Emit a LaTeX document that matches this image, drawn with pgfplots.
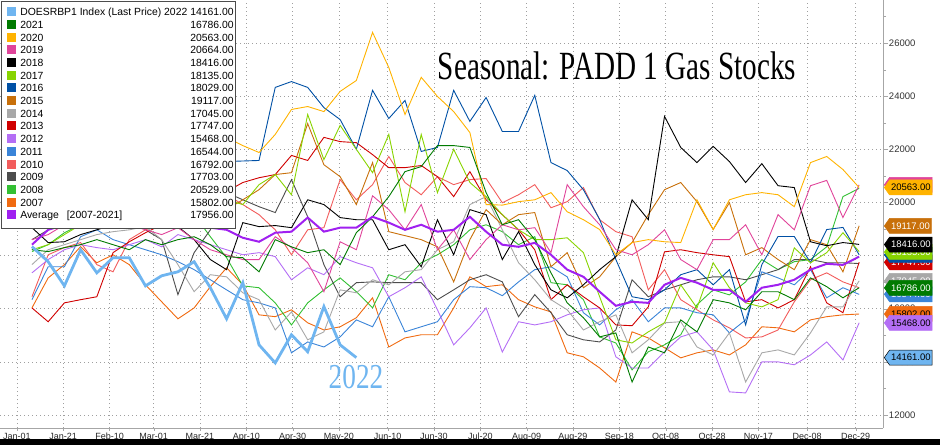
\documentclass[border=0pt]{standalone}
\usepackage{fontspec}
\setmainfont{Liberation Sans}
\newfontfamily\tnr{Liberation Serif}
\usepackage{pgfplots}
\pgfplotsset{compat=1.18}
\usetikzlibrary{shapes.symbols}
\definecolor{c22}{HTML}{6FB5F0}
\definecolor{c21}{HTML}{007A00}
\definecolor{c20}{HTML}{FFB300}
\definecolor{c19}{HTML}{E0449A}
\definecolor{c18}{HTML}{000000}
\definecolor{c17}{HTML}{88D400}
\definecolor{c16}{HTML}{0050A5}
\definecolor{c15}{HTML}{C8700A}
\definecolor{c14}{HTML}{A8A8A8}
\definecolor{c13}{HTML}{D00000}
\definecolor{c12}{HTML}{B46EF5}
\definecolor{c11}{HTML}{3A84D8}
\definecolor{c10}{HTML}{F25C5C}
\definecolor{c09}{HTML}{4D4D4D}
\definecolor{c08}{HTML}{33C033}
\definecolor{c07}{HTML}{F06A10}
\definecolor{cavg}{HTML}{A020F0}
\newcommand\yr[3]{\addplot[color=#1, line width=#2, forget plot] table[x expr=\coordindex, y=y, row sep=\\]{#3};}
\newcommand\sq[1]{\textcolor{#1}{\rule[-0.5pt]{9pt}{9pt}}}
\newcommand\vtag[5]{\node[signal, signal to=west, signal pointer angle=110, fill=#3, text=#4, draw=#5, line width=0.5pt, minimum height=15pt, inner xsep=1.5pt, inner ysep=0pt, anchor=west, xshift=1pt, font=\fontsize{9.5}{10}\selectfont] at (#1) {#2};}
\begin{document}
\begin{tikzpicture}
\path[use as bounding box] (0,0) rectangle (940pt,445pt);
\begin{axis}[
  at={(0pt,17pt)}, anchor=south west,
  width=883pt, height=428pt, scale only axis,
  xmin=-1.97, xmax=52.47, ymin=11510, ymax=27620,
  axis x line*=bottom, axis y line*=right,
  axis line style={gray!70},
  xtick={-0.929,1.929,4.786,7.5,10.357,13.214,16.071,18.929,21.929,24.786,27.643,30.5,33.357,36.214,39.071,41.929,44.786,47.786,50.786},
  xticklabels={Jan-01,Jan-21,Feb-10,Mar-01,Mar-21,Apr-10,Apr-30,May-20,Jun-10,Jun-30,Jul-20,Aug-09,Aug-29,Sep-18,Oct-08,Oct-28,Nov-17,Dec-08,Dec-29},
  ytick={12000,14000,16000,18000,20000,22000,24000,26000},
  minor ytick={13000,15000,17000,19000,21000,23000,25000,27000},
  scaled y ticks=false,
  tick align=outside,
  xtick style={gray!70, /pgfplots/major tick length=2.5pt},
  ytick style={gray!70, /pgfplots/major tick length=5pt, /pgfplots/minor tick length=3pt},
  grid=major,
  grid style={gray!75, line width=0.5pt, dash pattern=on 1pt off 3pt},
  xticklabel style={font=\fontsize{9}{10}\selectfont, text=black!85, inner sep=1pt},
  yticklabel style={font=\fontsize{9.5}{10}\selectfont, text=black!80, inner sep=1.5pt},
  /pgf/number format/1000 sep={},
  /pgf/number format/assume math mode=true,
  clip mode=individual,
  unbounded coords=jump,
]
\yr{c07}{0.9pt}{y\\16030\\17160\\17660\\18340\\17730\\18030\\17660\\16900\\16260\\15620\\16030\\16830\\17540\\16900\\15770\\15700\\15960\\15470\\15200\\15320\\15660\\16410\\14560\\14900\\15020\\15020\\16030\\17200\\16830\\16900\\16340\\16070\\15880\\14340\\14190\\13770\\13240\\15130\\14900\\14530\\14150\\14340\\14450\\14260\\14640\\15320\\15280\\15130\\15580\\15700\\15770\\15800\\}
\yr{c08}{0.9pt}{y\\18150\\18410\\18860\\19160\\19350\\19430\\19540\\19350\\19540\\19620\\19540\\18710\\17920\\16860\\16790\\16220\\15390\\16220\\16710\\17160\\16640\\16030\\17280\\17090\\17730\\18030\\18410\\18970\\19160\\18900\\18410\\18710\\16980\\16900\\16340\\14940\\14710\\13700\\14380\\14640\\15020\\16150\\16710\\16520\\17010\\17850\\17470\\17770\\17850\\18330\\20220\\20530\\}
\yr{c09}{0.9pt}{y\\18600\\18970\\19160\\19350\\19540\\19730\\19430\\18970\\18600\\16530\\18110\\18970\\20370\\20100\\19840\\19620\\20860\\19460\\17660\\16450\\16980\\17010\\16980\\16980\\16980\\16340\\16710\\17090\\17280\\17010\\15700\\16530\\15850\\15020\\14830\\14750\\15200\\17090\\16450\\16710\\16900\\17090\\17200\\17200\\17090\\17280\\17470\\17850\\17850\\17730\\17730\\17700\\}
\yr{c10}{0.9pt}{y\\16450\\18030\\18300\\18490\\17660\\17390\\18600\\18970\\19160\\19540\\19920\\20100\\20290\\19920\\19540\\18970\\18030\\18970\\19050\\20860\\20100\\20670\\21730\\20750\\20290\\20970\\20670\\20860\\20900\\19990\\20290\\20670\\19800\\20030\\20560\\19350\\18900\\18710\\16710\\17470\\16340\\15960\\15580\\15280\\14900\\14940\\15200\\16260\\17090\\17350\\17010\\16790\\}
\yr{c11}{0.9pt}{y\\16340\\17580\\17580\\18710\\18970\\18600\\18410\\18220\\18030\\17770\\17470\\17090\\16710\\16340\\16220\\16030\\14340\\14750\\14560\\14940\\15580\\15320\\16450\\15130\\15320\\15510\\16340\\16830\\16790\\16490\\17010\\17470\\17580\\17200\\15850\\15390\\15960\\16340\\15510\\16030\\16030\\15850\\15770\\15090\\15580\\17390\\17160\\16900\\17470\\16410\\16790\\16540\\}
\yr{c12}{0.9pt}{y\\17350\\17850\\18220\\18410\\18300\\18220\\18410\\18600\\18330\\18790\\18600\\18410\\18220\\18030\\18110\\17960\\17090\\17540\\17280\\17960\\17730\\17540\\16450\\16790\\17200\\15960\\14640\\15280\\16030\\14370\\15510\\15390\\15510\\15770\\15960\\16030\\14190\\13770\\13770\\14380\\14940\\15130\\14450\\12870\\12830\\14000\\14000\\13890\\14260\\14750\\14070\\15470\\}
\yr{c13}{0.9pt}{y\\16030\\15510\\16220\\16340\\16450\\18110\\18520\\18860\\19160\\19540\\19920\\20180\\20410\\20750\\20930\\21050\\21770\\21580\\22450\\22290\\22250\\21800\\21310\\21310\\21390\\20970\\20220\\21160\\20100\\19540\\18970\\18220\\16340\\16900\\16450\\16030\\15390\\15360\\16070\\18140\\18220\\18110\\18030\\17960\\16260\\16340\\16030\\16340\\17580\\16220\\15850\\17750\\}
\yr{c14}{0.9pt}{y\\17660\\18220\\18410\\18600\\18790\\18900\\18970\\19090\\18600\\17660\\16640\\17280\\17200\\16600\\16340\\15200\\15880\\14830\\15130\\16710\\16600\\17090\\16900\\17390\\17470\\18220\\18520\\19920\\20220\\18970\\17730\\17090\\16340\\15960\\15200\\15510\\15770\\14340\\14830\\15470\\15510\\14560\\14260\\15090\\13240\\14340\\14450\\14260\\15090\\16070\\16070\\17050\\}
\yr{c15}{0.9pt}{y\\19540\\19730\\19920\\20100\\19920\\20290\\20480\\20100\\19920\\19730\\19920\\20100\\19730\\20100\\20480\\21050\\21120\\22970\\21420\\20970\\19920\\21500\\18900\\18750\\18600\\18330\\17010\\18600\\19730\\19160\\19540\\19620\\17580\\18110\\16790\\17200\\17960\\18490\\19540\\20480\\20750\\20030\\18980\\19990\\18030\\18300\\17850\\17470\\18600\\18410\\17390\\19120\\}
\yr{c16}{0.9pt}{y\\19800\\20100\\20500\\20800\\21100\\20900\\21300\\21000\\21400\\21600\\21500\\21500\\21540\\21560\\21580\\24330\\24550\\24330\\23570\\23120\\22000\\24220\\23160\\23840\\21920\\22070\\24220\\23050\\23950\\22670\\22670\\24030\\21500\\21200\\20480\\19360\\17850\\16450\\16340\\16710\\17280\\17470\\16900\\17470\\15390\\17660\\18720\\18720\\17730\\18980\\19060\\18030\\}
\yr{c17}{0.9pt}{y\\18220\\18410\\18790\\19160\\19540\\19730\\20100\\20480\\20860\\21240\\20480\\20100\\20100\\19920\\20670\\21050\\20290\\23310\\21610\\22900\\22000\\21120\\22560\\19650\\22560\\20370\\22000\\20750\\20220\\19540\\18970\\18600\\18600\\18670\\18110\\16450\\14830\\14710\\15130\\15470\\16900\\16030\\17730\\16790\\16220\\16070\\16340\\18290\\17730\\18110\\18860\\18150\\}
\yr{c18}{0.9pt}{y\\19050\\18490\\18520\\18790\\18970\\19160\\19160\\19280\\19160\\19090\\18600\\17850\\17470\\19240\\19090\\19130\\19050\\20100\\19920\\19430\\19350\\19350\\18220\\18410\\17580\\19350\\18030\\19730\\19540\\17850\\18900\\17660\\16710\\16410\\16900\\17470\\17960\\20100\\19350\\23240\\22070\\21500\\22110\\21540\\20750\\21460\\20630\\20560\\18520\\18370\\18490\\18420\\}
\yr{c19}{0.9pt}{y\\18600\\18790\\19160\\19350\\19540\\19730\\19160\\18970\\18790\\19050\\18600\\18220\\18030\\17850\\17850\\18710\\18300\\17730\\16640\\18520\\18220\\20250\\19730\\18970\\19920\\18220\\18970\\17850\\18600\\19160\\18970\\19050\\18110\\20670\\19840\\19160\\18220\\18030\\18410\\18970\\17850\\17470\\18600\\18600\\19160\\18030\\19540\\18970\\20630\\20830\\19430\\20660\\}
\yr{c20}{0.9pt}{y\\19500\\19800\\20200\\20600\\20400\\20900\\21300\\21000\\21500\\21800\\22100\\21700\\22450\\22140\\21880\\22560\\23500\\23610\\23420\\24180\\24590\\26400\\25080\\23310\\24710\\23990\\23420\\22630\\19920\\19900\\20030\\20100\\20370\\19650\\19350\\18980\\18030\\18490\\18600\\18520\\18490\\20100\\18980\\20100\\20290\\20370\\20290\\19840\\21500\\21730\\21240\\20560\\}
\yr{c21}{0.9pt}{y\\18220\\18150\\18300\\18410\\18600\\18410\\18220\\18600\\18410\\18600\\18710\\18410\\17960\\17920\\17390\\18600\\18330\\18110\\18220\\17660\\18860\\19460\\20220\\21160\\21350\\22140\\22140\\22070\\20370\\19160\\19350\\18600\\17350\\16220\\15660\\14940\\15090\\13240\\14560\\14340\\15580\\15130\\16340\\16220\\15960\\16640\\16640\\16340\\17160\\16830\\16410\\16790\\}
\yr{cavg}{2pt}{y\\18410\\18970\\19160\\19280\\19350\\19280\\19160\\19280\\19160\\19050\\19130\\19050\\18970\\18670\\18520\\18860\\18900\\19430\\18900\\19050\\19050\\19460\\19240\\18970\\19160\\18900\\18970\\19460\\18900\\18410\\18330\\18480\\18030\\17470\\17200\\16640\\16110\\16260\\16220\\16900\\17160\\16980\\16710\\16710\\16260\\16790\\16900\\17090\\17470\\17690\\17650\\17960\\}
\yr{c22}{2.8pt}{y\\18340\\17770\\16860\\18220\\17350\\17920\\17920\\16860\\17240\\17390\\17770\\16790\\15620\\16980\\14640\\13960\\15020\\14380\\16080\\14640\\14160\\}
\coordinate (T19) at (axis cs:52.47,20664);
\coordinate (T20) at (axis cs:52.47,20563);
\coordinate (T15) at (axis cs:52.47,19117);
\coordinate (T13) at (axis cs:52.47,17747);
\coordinate (T16) at (axis cs:52.47,18029);
\coordinate (T17) at (axis cs:52.47,18135);
\coordinate (T18) at (axis cs:52.47,18416);
\coordinate (T14) at (axis cs:52.47,17045);
\coordinate (T11) at (axis cs:52.47,16544);
\coordinate (T21) at (axis cs:52.47,16786);
\coordinate (T07) at (axis cs:52.47,15802);
\coordinate (T12) at (axis cs:52.47,15468);
\coordinate (T22) at (axis cs:52.47,14161);
\end{axis}
\vtag{T19}{20664.00}{c19}{white}{c19}
\vtag{T20}{20563.00}{c20}{black}{c20}
\vtag{T15}{19117.00}{c15}{white}{c15}
\vtag{T13}{17747.00}{c13}{white}{c13}
\vtag{T16}{18029.00}{c16}{white}{c16}
\vtag{T17}{18135.00}{c17}{white}{c17}
\vtag{T18}{18416.00}{c18}{white}{c18}
\vtag{T14}{17045.00}{c14}{white}{c14}
\vtag{T11}{16544.00}{c11}{white}{c11}
\vtag{T21}{16786.00}{c21}{white}{c21}
\vtag{T07}{15802.00}{c07}{black}{c07}
\vtag{T12}{15468.00}{c12}{black}{c12}
\vtag{T22}{14161.00}{c22}{black}{black}
\node[anchor=north west, draw=black!70, fill=white, inner xsep=0pt, inner ysep=5.5pt, line width=0.6pt] at (1pt,444pt) {\fontsize{10.4}{12.7}\selectfont\begin{tabular}{@{\hspace{6pt}}l@{\hspace{4pt}}p{170pt}@{}r@{\hspace{2pt}}}
\sq{c22} & DOESRBP1 Index (Last Price) 2022 & 14161.00\\
\sq{c21} & 2021 & 16786.00\\
\sq{c20} & 2020 & 20563.00\\
\sq{c19} & 2019 & 20664.00\\
\sq{c18} & 2018 & 18416.00\\
\sq{c17} & 2017 & 18135.00\\
\sq{c16} & 2016 & 18029.00\\
\sq{c15} & 2015 & 19117.00\\
\sq{c14} & 2014 & 17045.00\\
\sq{c13} & 2013 & 17747.00\\
\sq{c12} & 2012 & 15468.00\\
\sq{c11} & 2011 & 16544.00\\
\sq{c10} & 2010 & 16792.00\\
\sq{c09} & 2009 & 17703.00\\
\sq{c08} & 2008 & 20529.00\\
\sq{c07} & 2007 & 15802.00\\
\sq{cavg} & Average\hspace{8pt}[2007-2021] & 17956.00
\end{tabular}};
\node[anchor=base, xscale=0.73, font=\tnr\fontsize{40}{40}\selectfont] at (617pt,365pt) {Seasonal: PADD 1 Gas Stocks};
\node[anchor=base, xscale=0.78, text=c22, font=\tnr\fontsize{35}{35}\selectfont] at (356pt,57pt) {2022};
\fill[black] (0,0) rectangle (940pt,6pt);
\end{tikzpicture}
\end{document}
